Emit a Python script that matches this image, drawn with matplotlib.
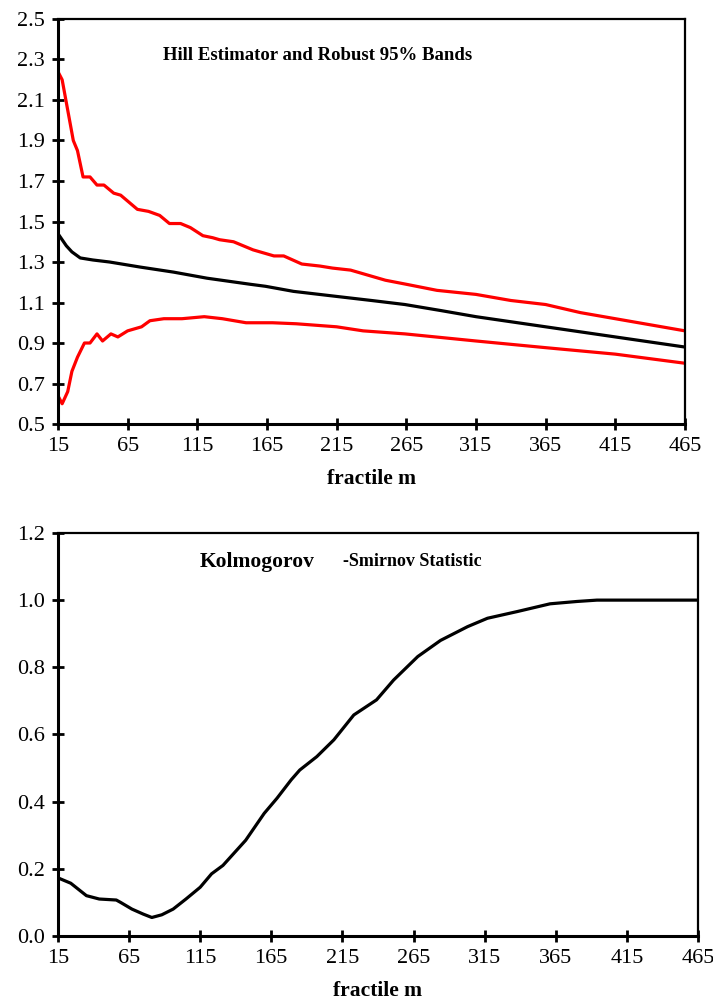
import numpy as np
import matplotlib.pyplot as plt

# Hill estimator panel (fractile m vs value)
hill_m = [15, 18, 21, 25, 31, 40, 52, 74, 98, 122, 153, 164, 184, 215, 240,
          264, 290, 315, 340, 365, 390, 415, 440, 465]
hill_val = [1.44, 1.41, 1.38, 1.35, 1.32, 1.31, 1.30, 1.275, 1.25, 1.22, 1.19,
            1.18, 1.155, 1.13, 1.11, 1.09, 1.06, 1.03, 1.005, 0.98, 0.955,
            0.93, 0.905, 0.88]

upper_m = [15, 18, 22, 26, 29, 33, 38, 43, 48, 55, 60, 72, 80, 88, 95, 103,
           110, 119, 126, 131, 141, 155, 170, 177, 190, 203, 212, 225, 235,
           250, 265, 287, 315, 340, 365, 390, 415, 440, 465]
upper_val = [2.24, 2.20, 2.05, 1.90, 1.85, 1.72, 1.72, 1.68, 1.68, 1.64, 1.63,
             1.56, 1.55, 1.53, 1.49, 1.49, 1.47, 1.43, 1.42, 1.41, 1.40, 1.36,
             1.33, 1.33, 1.29, 1.28, 1.27, 1.26, 1.24, 1.21, 1.19, 1.16, 1.14,
             1.11, 1.09, 1.05, 1.02, 0.99, 0.96]

lower_m = [15, 18, 22, 25, 29, 34, 38, 43, 47, 53, 58, 65, 75, 81, 91, 104,
           120, 133, 150, 169, 186, 215, 234, 264, 315, 365, 415, 465]
lower_val = [0.64, 0.60, 0.66, 0.76, 0.83, 0.90, 0.90, 0.945, 0.91, 0.945,
             0.93, 0.96, 0.98, 1.01, 1.02, 1.02, 1.03, 1.02, 1.00, 1.00, 0.995,
             0.98, 0.96, 0.945, 0.91, 0.877, 0.845, 0.80]

# Kolmogorov-Smirnov panel
ks_m = [15, 24, 35, 44, 56, 59, 67, 75, 81, 88, 96, 105, 115, 123, 131, 147,
        160, 169, 179, 185, 197, 209, 223, 239, 251, 268, 284, 303, 317, 338,
        361, 380, 394, 420, 465]
ks_val = [0.173, 0.157, 0.12, 0.11, 0.107, 0.10, 0.08, 0.065, 0.055, 0.063,
          0.08, 0.11, 0.145, 0.185, 0.21, 0.285, 0.365, 0.41, 0.465, 0.494,
          0.534, 0.584, 0.658, 0.703, 0.762, 0.832, 0.88, 0.921, 0.946, 0.966,
          0.989, 0.996, 1.0, 1.0, 1.0]

x_ticks = np.arange(15, 466, 50)

plt.rcParams['font.family'] = ['Liberation Serif', 'DejaVu Serif']

fig = plt.figure(figsize=(7.13, 10.05), dpi=100)
ax1 = fig.add_axes([0.0813, 0.5781, 0.8794, 0.403])
ax2 = fig.add_axes([0.0813, 0.0687, 0.8976, 0.401])

ax1.plot(upper_m, upper_val, color='#ff0000', lw=2.3)
ax1.plot(lower_m, lower_val, color='#ff0000', lw=2.3)
ax1.plot(hill_m, hill_val, color='black', lw=2.3)
ax1.set_xlim(15, 465)
ax1.set_ylim(0.5, 2.5)
ax1.set_yticks(np.arange(0.5, 2.51, 0.2))
ax1.set_yticklabels(['%.1f' % v for v in np.arange(0.5, 2.51, 0.2)])
ax1.text(0.1675, 0.911, 'Hill Estimator and Robust 95% Bands',
         transform=ax1.transAxes, ha='left', va='center',
         fontsize=13.5, fontweight='bold')

ax2.plot(ks_m, ks_val, color='black', lw=2.3)
ax2.set_xlim(15, 465)
ax2.set_ylim(0, 1.2)
ax2.set_yticks(np.arange(0, 1.21, 0.2))
ax2.set_yticklabels(['%.1f' % v for v in np.arange(0, 1.21, 0.2)])
ax2.text(0.222, 0.928, 'Kolmogorov', transform=ax2.transAxes,
         ha='left', va='center', fontsize=15.5, fontweight='bold')
ax2.text(0.445, 0.928, '-Smirnov Statistic', transform=ax2.transAxes,
         ha='left', va='center', fontsize=13, fontweight='bold')

for ax in (ax1, ax2):
    ax.set_xticks(x_ticks)
    ax.set_xticklabels([str(t) for t in x_ticks])
    ax.tick_params(direction='inout', length=9, width=2, labelsize=16, pad=5)
    ax.set_xlabel('fractile m', fontsize=15.5, fontweight='bold', labelpad=9)
    for side in ('left', 'bottom'):
        ax.spines[side].set_linewidth(2.2)
    for side in ('top', 'right'):
        ax.spines[side].set_linewidth(1.6)

fig.savefig('out.png', dpi=100)
